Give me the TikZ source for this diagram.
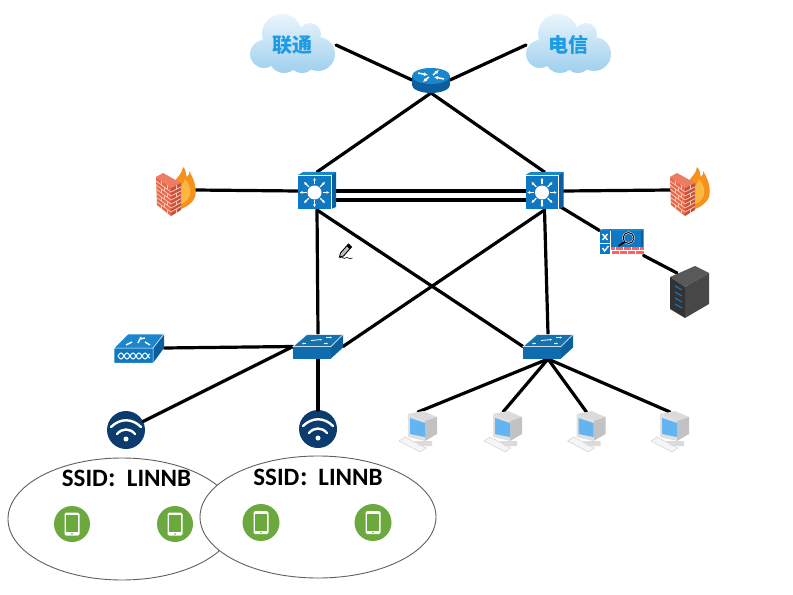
\documentclass[tikz,border=0pt]{standalone}
\usepackage{fontspec}
\setmainfont{Carlito}
\newfontfamily\cjk{Noto Sans CJK SC}
\usetikzlibrary{shapes.geometric,arrows.meta}
\definecolor{swblue}{HTML}{0F78C2}
\definecolor{swdark}{HTML}{0B5F9C}
\definecolor{swmid}{HTML}{1A86CC}
\definecolor{navy}{HTML}{0C3B6E}
\definecolor{leaf}{HTML}{6BA83D}
\definecolor{brick}{HTML}{E8664A}
\definecolor{brickdark}{HTML}{C9503A}
\definecolor{mortar}{HTML}{F7C9B4}
\definecolor{cloudtop}{HTML}{EAF5FC}
\definecolor{cloudbot}{HTML}{9FCFEE}
\definecolor{cloudword}{HTML}{1E9BE3}
\definecolor{flame}{HTML}{F5921E}
\definecolor{flamein}{HTML}{FBB840}
\definecolor{screen}{HTML}{63B4F0}
\newcommand{\ssidtext}{SSID{\cjk\fontsize{19bp}{22bp}\selectfont ：}LINNB}
\tikzset{
  box/.style={inner sep=0pt,outer sep=0pt,minimum width=#1},
  link/.style={line width=3.2bp,black,line cap=round},
  cell/.style={draw=gray!75!black,line width=.9bp,fill=white,ellipse,inner sep=0pt},
  ssid/.style={font=\bfseries\fontsize{25bp}{28bp}\selectfont,text=black,inner sep=0pt},
  cloudtext/.style={font=\cjk\bfseries\fontsize{20bp}{22bp}\selectfont,text=cloudword,inner sep=0pt},
  cloudicon/.pic={
    \shade[top color=cloudtop,bottom color=cloudbot]
      (-10,-12) circle (20) (-28,8) circle (14) (-8,12) circle (15)
      (26,8) circle (17) (10,-2) circle (16) (10,13) circle (14) (18,-12) circle (11);
  },
  routericon/.pic={
    \fill[swdark] (0,5) ellipse[x radius=19,y radius=8];
    \fill[swdark] (-19,-4) rectangle (19,5);
    \fill[swmid] (0,-4) ellipse[x radius=19,y radius=8];
    \draw[white,line width=1.5bp,-{Latex[length=4bp,width=4bp]}] (-13,-7) -- (-3,-5);
    \draw[white,line width=1.5bp,-{Latex[length=4bp,width=4bp]}] (13,-1) -- (3,-3);
    \draw[white,line width=1.5bp,-{Latex[length=4bp,width=4bp]}] (2,-5) -- (8,-10);
    \draw[white,line width=1.5bp,-{Latex[length=4bp,width=4bp]}] (-2,-3) -- (-8,2);
  },
  lthreeicon/.pic={
    \fill[swmid] (-19,-16) -- (-14,-19) -- (19,-19) -- (14,-16) -- cycle;
    \fill[swdark] (14,-16) -- (19,-19) -- (19,16) -- (14,18) -- cycle;
    \fill[swblue] (-19,-16) rectangle (14,18);
    \draw[white,line width=.6bp] (-19,-16) -- (14,-16) -- (14,18);
    \foreach \a in {0,45,...,315}
      \draw[white,line width=1.2bp,-{Latex[length=3bp,width=3bp]}] (-2.5,1.5)++(\a:8) -- ++(\a:7);
    \fill[white] (-2.5,1.5) circle (7);
  },
  firewallicon/.pic={
    \fill[flame] (-2,-8) .. controls (2,-14) and (6,-16) .. (7,-23)
      .. controls (11,-20) and (9,-16) .. (11,-13) .. controls (13,-15) and (14,-17) .. (13,-19)
      .. controls (19,-10) and (21,0) .. (19,7) .. controls (16,14) and (10,17) .. (5,19) -- cycle;
    \fill[flamein] (5,-3) .. controls (7,-7) and (9,-9) .. (9,-11)
      .. controls (15,-4) and (16,3) .. (12,9) .. controls (10,12) and (7,13) .. (5,14) -- cycle;
    \fill[brick!85!white] (-20,-13) -- (-13,-17) -- (5,-7) -- (-5,-2) -- cycle;
    \fill[brick] (-20,-13) -- (-5,-2) -- (-5,26) -- (-19,15) -- cycle;
    \fill[brickdark] (-5,-2) -- (5,-7) -- (5,20) -- (-5,26) -- cycle;
    \foreach \t in {1,...,6} {
      \draw[mortar,line width=.8bp] (-20,{-13+4*\t}) -- (-5,{-2+4*\t}) -- (5,{-7+3.9*\t});
    }
    \foreach \t in {0,2,4,6} {
      \draw[mortar,line width=.8bp] (-15,{-9.4+4*\t}) -- (-15,{-5.4+4*\t});
      \draw[mortar,line width=.8bp] (-9,{-5+4*\t}) -- (-9,{-1+4*\t});
      \draw[mortar,line width=.8bp] (0,{-4.5+3.9*\t}) -- (0,{-0.6+3.9*\t});
    }
    \foreach \t in {1,3,5} {
      \draw[mortar,line width=.8bp] (-12,{-7.2+4*\t}) -- (-12,{-3.2+4*\t});
    }
  },
  ipsicon/.pic={
    \fill[swdark] (19,-12) -- (22,-14) -- (22,9) -- (19,11) -- cycle;
    \fill[swmid] (-22,-12) -- (-19,-14) -- (22,-14) -- (19,-12) -- cycle;
    \fill[swblue] (-22,-12) rectangle (19,11);
    \fill[red!62!white] (-11,4) rectangle (22,11);
    \draw[white,line width=.5bp] (-11,7.5) -- (22,7.5);
    \foreach \x in {-6,2,10,18} \draw[white,line width=.5bp] (\x,4) -- (\x,7.5) (\x-4,7.5) -- (\x-4,11);
    \draw[white,line width=.8bp] (-22,0) -- (-11,0) (-11,-12) -- (-11,11);
    \draw[white,line width=1.4bp] (-19,-9) -- (-14,-3) (-14,-9) -- (-19,-3);
    \draw[white,line width=1.4bp] (-19,5) -- (-17,8) -- (-13,3);
    \draw[white,line width=2bp] (7,-5) circle (5.5);
    \draw[black,line width=1bp] (7,-5) circle (5.5);
    \draw[black,line width=1.8bp] (3,-1) -- (-3,3);
  },
  servericon/.pic={
    \fill[black!65] (-20,-15) -- (5,-26) -- (19,-19) -- (-5,-5) -- cycle;
    \fill[black!80] (-20,-15) -- (-5,-5) -- (-5,26) -- (-20,17) -- cycle;
    \fill[black!72] (-5,-5) -- (19,-19) -- (19,12) -- (-5,26) -- cycle;
    \foreach \t in {0,1,2,3}
      \draw[cyan!60!blue,line width=1bp] (-15,{-6+6*\t}) -- (-8,{-2+6*\t});
  },
  accessicon/.pic={
    \fill[swdark] (13,0) -- (25,-12) -- (25,1) -- (13,12) -- cycle;
    \fill[swblue!90!black] (-25,0) rectangle (13,12);
    \fill[swmid!85!black] (-25,0) -- (-11,-12) -- (25,-12) -- (13,0) -- cycle;
    \draw[white,line width=.5bp] (-25,0) -- (-11,-12) -- (25,-12) -- (13,0) -- cycle;
    \draw[white,line width=.8bp,-{Latex[length=2bp,width=2bp]}] (-7,-6) -- (4,-7);
    \draw[white,line width=.8bp,-{Latex[length=2bp,width=2bp]}] (8,-9) -- (14,-9);
    \draw[white,line width=.8bp,-{Latex[length=2bp,width=2bp]}] (-12,-3) -- (-16,-3);
    \draw[white,line width=.8bp,-{Latex[length=2bp,width=2bp]}] (6,-3) -- (10,-3);
  },
  waveicon/.pic={
    \fill[swdark] (14,0) -- (25,-14) -- (25,0) -- (14,15) -- cycle;
    \fill[swblue] (-25,0) rectangle (14,15);
    \fill[swmid] (-25,0) -- (-11,-14) -- (25,-14) -- (14,0) -- cycle;
    \draw[white,line width=.5bp] (-25,0) -- (-11,-14) -- (25,-14) -- (14,0) -- (14,15) -- (-25,15) -- cycle (14,0) -- (-25,0);
    \draw[white,line width=1bp] (-21,8) sin (-18,5) cos (-15,8) sin (-12,11) cos (-9,8) sin (-6,5) cos (-3,8) sin (0,11) cos (3,8) sin (6,5) cos (9,8) sin (11,10);
    \draw[white,line width=1bp] (-21,8) sin (-18,11) cos (-15,8) sin (-12,5) cos (-9,8) sin (-6,11) cos (-3,8) sin (0,5) cos (3,8) sin (6,11) cos (9,8) sin (11,6);
    \draw[white,line width=1.4bp] (-1,-5) -- (2,-11) (-13,-3) -- (-7,-6) (6,-6) -- (11,-3) (1,-9) -- (6,-10);
  },
  wifiicon/.pic={
    \draw[white,line width=2.4bp,line cap=round] (-15,-3) .. controls (-6,-12) and (6,-12) .. (15,-3);
    \draw[white,line width=2.4bp,line cap=round] (-9,4) .. controls (-4,-2) and (4,-2) .. (9,4);
    \fill[white] (0,9) circle (2.5);
  },
  pcicon/.pic={
    \fill[black!4] (-19,10) -- (-13,6) -- (8,17) -- (2,21) -- cycle;
    \draw[black!18,line width=.5bp] (-19,10) -- (-13,6) -- (8,17) -- (2,21) -- cycle;
    \fill[black!14] (-4,10) -- (14,10) -- (14,15) -- (2,15) -- cycle;
    \fill[black!14] (-10,-17) -- (5,-20) -- (19,-14) -- (7,-10) -- cycle;
    \fill[black!24] (7,-10) -- (19,-14) -- (19,3) -- (7,10) -- cycle;
    \fill[black!12] (-10,-17) -- (7,-10) -- (7,10) -- (-10,6) -- cycle;
    \fill[screen] (-8,-13) -- (7,-8) -- (7,6) -- (-8,3) -- cycle;
  },
  phoneicon/.pic={
    \fill[white,rounded corners=1.5bp] (-7.5,-11.5) rectangle (7.5,11.5);
    \fill[leaf] (-6,-9) rectangle (6,8);
    \fill[leaf] (0,10) circle (.8);
  },
  penicon/.pic={
    \draw[black,fill=black!25,line width=.9bp] (-5,2) -- (3,-7) -- (6,-4) -- (-2,5) -- (-6,6) -- cycle;
    \fill[black] (3,-7) -- (6,-4) -- (4,-2) -- (1,-5) -- cycle;
    \draw[black,line width=.6bp] (-6,7) .. controls (-3,4) and (-2,9) .. (0,7) .. controls (2,5) and (3,9) .. (7,7);
  }
}
\begin{document}
\begin{tikzpicture}[x=1bp,y=-1bp]
\useasboundingbox (0,0) rectangle (793,595);
% clouds
\pic at (292,46) {cloudicon};
\pic at (568,46) {cloudicon};
\node[box=88bp,minimum height=30bp,cloudtext] (cloudA) at (292,45) {联通};
\node[box=84bp,minimum height=30bp,cloudtext] (cloudB) at (568,45) {电信};
% anchor boxes for devices
\node[box=38bp,minimum height=26bp] (router) at (431,80) {};
\node[box=38bp,minimum height=38bp] (coreA) at (317,191) {};
\node[box=38bp,minimum height=38bp] (coreB) at (544.5,191) {};
\node[box=38bp,minimum height=40bp] (fwA) at (176,190) {};
\node[box=38bp,minimum height=40bp] (fwB) at (690,190) {};
\node[box=44bp,minimum height=25bp] (ips) at (621.5,243) {};
\node[box=40bp,minimum height=52bp] (server) at (690,292) {};
\node[box=50bp,minimum height=25bp] (accA) at (318,346.5) {};
\node[box=50bp,minimum height=25bp] (accB) at (548,346.5) {};
\node[box=50bp,minimum height=29bp] (wave) at (139,348) {};
\node[circle,fill=navy,minimum size=38bp,inner sep=0pt,outer sep=0pt] (wifiA) at (126,430) {};
\node[circle,fill=navy,minimum size=38bp,inner sep=0pt,outer sep=0pt] (wifiB) at (318,429) {};
\node[box=30bp,minimum height=38bp] (pcA) at (418,431) {};
\node[box=30bp,minimum height=38bp] (pcB) at (503,431) {};
\node[box=30bp,minimum height=38bp] (pcC) at (586.5,431) {};
\node[box=30bp,minimum height=38bp] (pcD) at (670,431) {};
% connectors
\draw[link] (cloudA.east) -- (router.west);
\draw[link] (cloudB.west) -- (router.east);
\draw[link] (router.south) -- (coreA.north);
\draw[link] (router.south) -- (coreB.north);
\draw[link] (fwA.east) -- (coreA.west);
\draw[link] (coreB.east) -- (fwB.west);
\draw[link] (coreA.east) -- (coreB.west);
\draw[link] ([yshift=-9bp]coreA.east) -- ([yshift=-9bp]coreB.west);
\draw[link] (coreA.south) -- (accA.north);
\draw[link] (coreA.south) -- (accB.west);
\draw[link] (coreB.south) -- (accA.east);
\draw[link] (coreB.south) -- (accB.north);
\draw[link] ([xshift=13bp,yshift=5bp]coreB.south) -- (ips.north west);
\draw[link] (ips.south east) -- ([xshift=7bp,yshift=19bp]server.west);
\draw[link] (wave.east) -- (accA.west);
\draw[link] (accA.west) -- (wifiA);
\draw[link] (accA.south) -- (wifiB.north);
\draw[link] (accB.south) -- (pcA.north);
\draw[link] (accB.south) -- (pcB.north);
\draw[link] (accB.south) -- (pcC.north);
\draw[link] (accB.south) -- (pcD.north);
% device icons
\pic at (router) {routericon};
\pic at (coreA) {lthreeicon};
\pic at (coreB) {lthreeicon};
\pic at (fwA) {firewallicon};
\pic at (fwB) {firewallicon};
\pic at (ips) {ipsicon};
\pic at (server) {servericon};
\pic at (accA) {accessicon};
\pic at (accB) {accessicon};
\pic at (wave) {waveicon};
\pic at (wifiA) {wifiicon};
\pic at (wifiB) {wifiicon};
\pic at (pcA) {pcicon};
\pic at (pcB) {pcicon};
\pic at (pcC) {pcicon};
\pic at (pcD) {pcicon};
\pic at (345.5,251) {penicon};
% wireless cells
\node[cell,minimum width=228bp,minimum height=122bp] (cellA) at (122,519) {};
\node[cell,minimum width=236bp,minimum height=122bp] (cellB) at (318,517) {};
\node[ssid] (ssidA) at (126.5,478) {\ssidtext};
\node[ssid] (ssidB) at (318,477) {\ssidtext};
\node[circle,fill=leaf,minimum size=36bp,inner sep=0pt] (phA) at (72,524) {};
\node[circle,fill=leaf,minimum size=36bp,inner sep=0pt] (phB) at (175,524) {};
\node[circle,fill=leaf,minimum size=37bp,inner sep=0pt] (phC) at (261,522.5) {};
\node[circle,fill=leaf,minimum size=37bp,inner sep=0pt] (phD) at (373,522.5) {};
\pic at (phA) {phoneicon};
\pic at (phB) {phoneicon};
\pic at (phC) {phoneicon};
\pic at (phD) {phoneicon};
\end{tikzpicture}
\end{document}
